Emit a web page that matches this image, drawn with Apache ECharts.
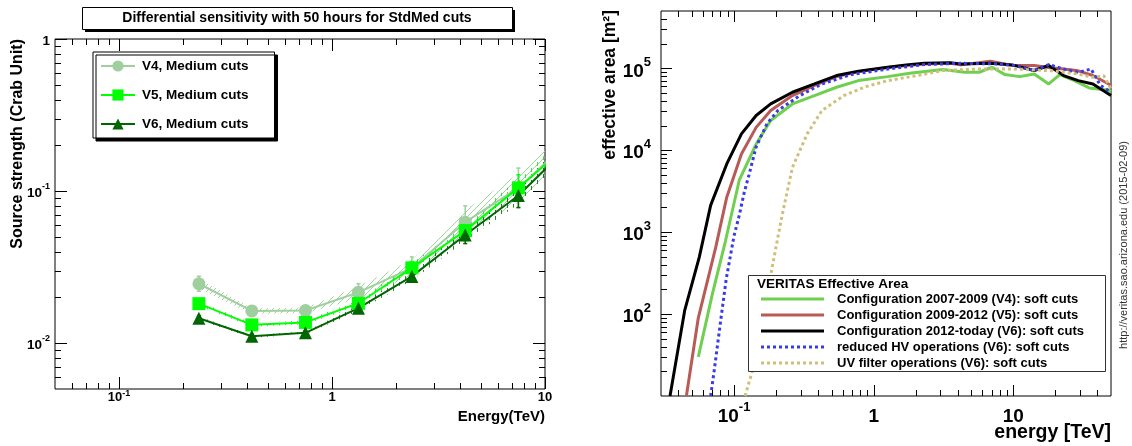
<!DOCTYPE html>
<html><head><meta charset="utf-8">
<script src="https://cdn.jsdelivr.net/npm/echarts@6/dist/echarts.min.js"></script>
<style>html,body{margin:0;padding:0;background:#fff}#c{width:1132px;height:446px}</style>
</head><body><div id="c"></div>
<script>
// ---------------- Left panel: differential sensitivity ----------------
const sensEnergy = [0.237, 0.42, 0.75, 1.33, 2.37, 4.22, 7.5, 13.3];
const sensV4 = [0.0246, 0.0163, 0.0164, 0.0216, 0.0313, 0.0625, 0.105, 0.22];
const sensV5 = [0.0182, 0.0132, 0.0137, 0.0183, 0.0313, 0.055, 0.105, 0.21];
const sensV6 = [0.0146, 0.0111, 0.0117, 0.0170, 0.0275, 0.0515, 0.0936, 0.205];
const sensErrV4 = [0.12, 0.06, 0.06, 0.14, 0.18, 0.28, 0.35, 0.4];
const sensErrV5 = [0.05, 0.04, 0.04, 0.07, 0.10, 0.16, 0.22, 0.25];
const sensErrV6 = [0.04, 0.03, 0.03, 0.06, 0.09, 0.14, 0.20, 0.22];
const sensNames = ['V4, Medium cuts', 'V5, Medium cuts', 'V6, Medium cuts'];

const sensXLabelValues = [0.1, 1, 10];
const sensXLabelTexts = ['{b|10}{s|-1}', '{b|1}', '{b|10}'];
const sensYLabelValues = [0.01, 0.1, 1];
const sensYLabelTexts = ['{b|10}{s|-2}', '{b|10}{s|-1}', '{b|1}'];
const sensXMajor = [0.1, 1, 10];
const sensXMinor = [0.06, 0.07, 0.08, 0.09, 0.2, 0.3, 0.4, 0.5, 0.6, 0.7, 0.8, 0.9, 2, 3, 4, 5, 6, 7, 8, 9];
const sensYMajor = [0.01, 0.1, 1];
const sensYMinor = [0.006, 0.007, 0.008, 0.009, 0.02, 0.03, 0.04, 0.05, 0.06, 0.07, 0.08, 0.09, 0.2, 0.3, 0.4, 0.5, 0.6, 0.7, 0.8, 0.9];

// ---------------- Right panel: effective area [E (TeV), A (m^2)] ----------------
const effTitle = 'VERITAS Effective Area';
const effNames = [
  'Configuration 2007-2009 (V4): soft cuts',
  'Configuration 2009-2012 (V5): soft cuts',
  'Configuration 2012-today (V6): soft cuts',
  'reduced HV operations (V6): soft cuts',
  'UV filter operations (V6): soft cuts'
];
const effV4 = [[0.0555,30],[0.07,176],[0.087,790],[0.109,4300],[0.144,11900],[0.183,23000],[0.262,36700],[0.377,46400],[0.542,58700],[0.778,70700],[1.26,79100],[1.81,86900],[3.12,96300],[4.48,89400],[5.7,89400],[7.05,103000],[8.7,83700],[11.1,79100],[14.1,85300],[17.9,64400],[21.5,83700],[27.4,70700],[34.9,57500],[47.2,54400],[50,52000]];
const effV5 = [[0.0456,10],[0.0555,90],[0.074,655],[0.0887,2670],[0.113,9000],[0.144,19000],[0.183,30500],[0.262,46400],[0.377,62000],[0.542,79000],[0.778,91000],[1.26,102000],[1.71,108000],[2.31,113000],[3.52,115000],[4.22,110000],[6.84,122000],[9.8,108000],[14.1,108000],[17.9,102000],[22.9,98000],[29.1,93000],[37.1,81500],[50,62000]];
const effV6 = [[0.0348,10],[0.0443,110],[0.0564,495],[0.068,2120],[0.0887,6800],[0.113,15800],[0.144,26500],[0.183,36700],[0.262,51000],[0.377,64400],[0.542,81500],[0.778,92000],[1.26,103000],[1.71,110000],[2.31,115000],[3.52,117000],[4.22,113000],[6.84,115000],[9.8,110000],[14.1,94000],[17.9,108000],[22.9,81500],[29.1,70700],[37.1,64400],[50,46400]];
const effHV = [[0.068,10],[0.072,20],[0.080,80],[0.088,270],[0.100,900],[0.109,1600],[0.118,3000],[0.128,5000],[0.144,11000],[0.172,21000],[0.206,30500],[0.296,46400],[0.426,64400],[0.69,83700],[1.26,98000],[2.31,111000],[4.22,115000],[7.7,113000],[10.4,108000],[14.1,94000],[17.9,111000],[22.9,98000],[29.1,89000],[36,98000],[41.9,62000],[50,51000]];
const effUV = [[0.12,10],[0.135,20],[0.152,80],[0.183,300],[0.22,1550],[0.262,6200],[0.334,15800],[0.426,30500],[0.611,46400],[0.88,59700],[1.26,70700],[2.05,81500],[3.12,93700],[5.7,98000],[10.4,98000],[19.1,93000],[29.1,85000],[37.1,77600],[44.4,81300],[50,56000]];

const effXLabelValues = [0.1, 1, 10];
const effXLabelTexts = ['{b|10}{s|-1}', '{b|1}', '{b|10}'];
const effYLabelValues = [100, 1000, 10000, 100000];
const effYLabelTexts = ['{b|10}{s|2}', '{b|10}{s|3}', '{b|10}{s|4}', '{b|10}{s|5}'];
const effXMajor = [0.1, 1, 10];
const effXMinor = [0.04, 0.05, 0.06, 0.07, 0.08, 0.09, 0.2, 0.3, 0.4, 0.5, 0.6, 0.7, 0.8, 0.9, 2, 3, 4, 5, 6, 7, 8, 9, 20, 30, 40];
const effYMajor = [100, 1000, 10000, 100000];
const effYMinor = [20, 30, 40, 50, 60, 70, 80, 90, 200, 300, 400, 500, 600, 700, 800, 900, 2000, 3000, 4000, 5000, 6000, 7000, 8000, 9000, 20000, 30000, 40000, 50000, 60000, 70000, 80000, 90000, 200000, 300000, 400000];

// ---------------- helpers ----------------
const FONT = '"Liberation Sans", Arial, sans-serif';
function labelFormatter(vals, texts) {
  return function (v) {
    const i = vals.findIndex(t => Math.abs(t - v) / t < 1e-6);
    return i < 0 ? '' : texts[i];
  };
}
function richLabels(size, supSize, lh) {
  return {
    b: { fontFamily: FONT, fontWeight: 'bold', fontSize: size, color: '#000', lineHeight: lh, verticalAlign: 'bottom' },
    s: { fontFamily: FONT, fontWeight: 'bold', fontSize: supSize, color: '#000', lineHeight: supSize, verticalAlign: 'top' }
  };
}
function hatch(color, kind) {
  const c = document.createElement('canvas');
  c.width = 6; c.height = 6;
  const g = c.getContext('2d');
  g.strokeStyle = color; g.lineWidth = 1;
  g.beginPath();
  if (kind === 'diag') {
    g.moveTo(0, 6); g.lineTo(6, 0);
    g.moveTo(-3, 3); g.lineTo(3, -3);
    g.moveTo(3, 9); g.lineTo(9, 3);
  } else {
    g.moveTo(3.5, 0); g.lineTo(3.5, 4);
  }
  g.stroke();
  return { image: c, repeat: 'repeat' };
}
function tickSeries(xi, yi, dim, values, majors, sides, Lmaj, Lmin, anchor) {
  return {
    type: 'custom', xAxisIndex: xi, yAxisIndex: yi, silent: true, z: 6, clip: false,
    data: values.map(v => dim === 'x' ? [v, anchor] : [anchor, v]),
    renderItem: function (params, api) {
      const cs = params.coordSys;
      const v = api.value(dim === 'x' ? 0 : 1);
      const p = api.coord([api.value(0), api.value(1)]);
      const L = majors.indexOf(v) >= 0 ? Lmaj : Lmin;
      const st = { stroke: '#000', lineWidth: 1 };
      const ch = [];
      if (dim === 'x') {
        const x = Math.round(p[0]) + 0.5;
        const b = cs.y + cs.height;
        if (sides.indexOf('bottom') >= 0) ch.push({ type: 'line', shape: { x1: x, y1: b, x2: x, y2: b - L }, style: st });
        if (sides.indexOf('top') >= 0) ch.push({ type: 'line', shape: { x1: x, y1: cs.y, x2: x, y2: cs.y + L }, style: st });
      } else {
        const y = Math.round(p[1]) + 0.5;
        const r = cs.x + cs.width;
        if (sides.indexOf('left') >= 0) ch.push({ type: 'line', shape: { x1: cs.x, y1: y, x2: cs.x + L, y2: y }, style: st });
        if (sides.indexOf('right') >= 0) ch.push({ type: 'line', shape: { x1: r, y1: y, x2: r - L, y2: y }, style: st });
      }
      return { type: 'group', children: ch };
    }
  };
}
function bandSeries(xs, ys, errs, fill) {
  return {
    type: 'custom', xAxisIndex: 0, yAxisIndex: 0, silent: true, z: 1, clip: true,
    data: [[xs[0], ys[0]]],
    renderItem: function (params, api) {
      const up = xs.map((x, i) => api.coord([x, ys[i] * (1 + 0.7 * errs[i])]));
      const lo = xs.map((x, i) => api.coord([x, ys[i] / (1 + 0.7 * errs[i])])).reverse();
      return { type: 'polygon', shape: { points: up.concat(lo) }, style: { fill: fill, stroke: null } };
    }
  };
}
function errSeries(xs, ys, errs, color) {
  return {
    type: 'custom', xAxisIndex: 0, yAxisIndex: 0, silent: true, z: 2, clip: true,
    data: xs.map((x, i) => [x, ys[i] / (1 + errs[i]), ys[i] * (1 + errs[i])]),
    encode: { x: 0, y: [1, 2] },
    renderItem: function (params, api) {
      const lo = api.coord([api.value(0), api.value(1)]);
      const hi = api.coord([api.value(0), api.value(2)]);
      const st = { stroke: color, lineWidth: 1.5 };
      return { type: 'group', children: [
        { type: 'line', shape: { x1: lo[0], y1: lo[1], x2: hi[0], y2: hi[1] }, style: st },
        { type: 'line', shape: { x1: hi[0] - 2, y1: hi[1], x2: hi[0] + 2, y2: hi[1] }, style: st },
        { type: 'line', shape: { x1: lo[0] - 2, y1: lo[1], x2: lo[0] + 2, y2: lo[1] }, style: st }
      ] };
    }
  };
}
const pair = (xs, ys) => xs.map((x, i) => [x, ys[i]]);

const cV4 = '#9fcf9f', cV5 = '#00ff00', cV6 = '#006600';
const effColors = ['#6fcf4f', '#b85a56', '#000000', '#3a3ae6', '#cfbf7a'];
const effDotted = [false, false, false, true, true];

// right-hand legend drawn as graphic elements (lines + text)
const effLegend = [
  { type: 'rect', shape: { x: 748.5, y: 275.5, width: 357, height: 96 }, style: { fill: '#fff', stroke: '#333', lineWidth: 1 }, z: 20 },
  { type: 'text', x: 757, y: 284, z: 21, style: { text: effTitle, font: 'bold 13.5px ' + FONT, fill: '#000', align: 'left', verticalAlign: 'middle' } }
];
effNames.forEach(function (n, i) {
  const y = 299 + 16 * i;
  effLegend.push({ type: 'line', z: 21, shape: { x1: 761, y1: y, x2: 824, y2: y },
    style: { stroke: effColors[i], lineWidth: 3, lineDash: effDotted[i] ? [3, 3] : null } });
  effLegend.push({ type: 'text', x: 837, y: y, z: 21,
    style: { text: n, font: 'bold 13px ' + FONT, fill: '#000', align: 'left', verticalAlign: 'middle' } });
});

const chart = echarts.init(document.getElementById('c'), null, { renderer: 'canvas' });
const option = {
  animation: false,
  backgroundColor: '#fff',
  grid: [
    { left: 55, top: 39, width: 490, height: 350, show: true, borderColor: '#000', borderWidth: 1, backgroundColor: 'transparent' },
    { left: 661, top: 11, width: 450, height: 385, show: true, borderColor: '#000', borderWidth: 1, backgroundColor: 'transparent' }
  ],
  xAxis: [
    { type: 'log', logBase: 10, gridIndex: 0, min: 0.05, max: 10,
      axisLine: { show: false }, axisTick: { show: false }, splitLine: { show: false },
      axisLabel: { margin: 0, showMaxLabel: true, showMinLabel: true, formatter: labelFormatter(sensXLabelValues, sensXLabelTexts), rich: richLabels(13, 9, 15) } },
    { type: 'log', logBase: 10, gridIndex: 1, min: 0.03, max: 50,
      axisLine: { show: false }, axisTick: { show: false }, splitLine: { show: false },
      axisLabel: { margin: 5, showMaxLabel: true, showMinLabel: true, formatter: labelFormatter(effXLabelValues, effXLabelTexts), rich: richLabels(19, 13, 25) } }
  ],
  yAxis: [
    { type: 'log', logBase: 10, gridIndex: 0, min: 0.005, max: 1,
      axisLine: { show: false }, axisTick: { show: false }, splitLine: { show: false },
      axisLabel: { margin: 5, showMaxLabel: true, showMinLabel: true, formatter: labelFormatter(sensYLabelValues, sensYLabelTexts), rich: richLabels(13.5, 9, 19) } },
    { type: 'log', logBase: 10, gridIndex: 1, min: 10, max: 500000,
      axisLine: { show: false }, axisTick: { show: false }, splitLine: { show: false },
      axisLabel: { margin: 10, showMaxLabel: true, showMinLabel: true, formatter: labelFormatter(effYLabelValues, effYLabelTexts), rich: richLabels(19, 13, 25) } }
  ],
  legend: [
    { orient: 'vertical', left: 93, top: 52, data: sensNames,
      itemWidth: 34, itemHeight: 14, itemGap: 15, padding: [7, 26, 7, 7],
      backgroundColor: '#fff', borderColor: '#000', borderWidth: 1,
      shadowColor: '#000', shadowOffsetX: 3, shadowOffsetY: 3, shadowBlur: 0,
      textStyle: { fontFamily: FONT, fontWeight: 'bold', fontSize: 13.5, color: '#000', padding: [0, 0, 0, 2] } }
  ],
  graphic: [
    { type: 'rect', shape: { x: 85, y: 10, width: 430, height: 22 }, style: { fill: '#000' }, z: 10 },
    { type: 'rect', shape: { x: 82.5, y: 7.5, width: 430, height: 22 }, style: { fill: '#fff', stroke: '#000', lineWidth: 1 }, z: 11 },
    { type: 'text', x: 297, y: 18.5, z: 12, style: { text: 'Differential sensitivity with 50 hours for StdMed cuts', font: 'bold 14px ' + FONT, fill: '#000', align: 'center', verticalAlign: 'middle' } },
    { type: 'text', x: 18, y: 39, rotation: Math.PI / 2, z: 12, style: { text: 'Source strength (Crab Unit)', font: 'bold 16px ' + FONT, fill: '#000', align: 'right', verticalAlign: 'middle' } },
    { type: 'text', x: 545, y: 417, z: 12, style: { text: 'Energy(TeV)', font: 'bold 15px ' + FONT, fill: '#000', align: 'right', verticalAlign: 'middle' } },
    { type: 'text', x: 610, y: 10, rotation: Math.PI / 2, z: 12, style: { text: 'effective area [m²]', font: 'bold 17.5px ' + FONT, fill: '#000', align: 'right', verticalAlign: 'middle' } },
    { type: 'text', x: 1111, y: 433, z: 12, style: { text: 'energy [TeV]', font: 'bold 19.5px ' + FONT, fill: '#000', align: 'right', verticalAlign: 'middle' } },
    { type: 'text', x: 1124, y: 245, rotation: Math.PI / 2, z: 12, style: { text: 'http://veritas.sao.arizona.edu (2015-02-09)', font: '11px ' + FONT, fill: '#333', align: 'center', verticalAlign: 'middle' } }
  ].concat(effLegend),
  series: [
    bandSeries(sensEnergy, sensV4, sensErrV4, hatch('rgba(150,205,150,0.9)', 'diag')),
    bandSeries(sensEnergy, sensV5, sensErrV5, hatch('rgba(0,210,0,0.7)', 'vert')),
    bandSeries(sensEnergy, sensV6, sensErrV6, hatch('rgba(0,100,0,0.8)', 'vert')),
    errSeries(sensEnergy, sensV4, sensErrV4, cV4),
    errSeries(sensEnergy, sensV5, sensErrV5, cV5),
    errSeries(sensEnergy, sensV6, sensErrV6, cV6),
    { name: sensNames[0], type: 'line', xAxisIndex: 0, yAxisIndex: 0, data: pair(sensEnergy, sensV4), z: 3,
      symbol: 'circle', symbolSize: 13, lineStyle: { color: cV4, width: 2 }, itemStyle: { color: cV4 } },
    { name: sensNames[1], type: 'line', xAxisIndex: 0, yAxisIndex: 0, data: pair(sensEnergy, sensV5), z: 3,
      symbol: 'rect', symbolSize: 13, lineStyle: { color: cV5, width: 2 }, itemStyle: { color: cV5 } },
    { name: sensNames[2], type: 'line', xAxisIndex: 0, yAxisIndex: 0, data: pair(sensEnergy, sensV6), z: 3,
      symbol: 'triangle', symbolSize: 13, lineStyle: { color: cV6, width: 2 }, itemStyle: { color: cV6 } },
    { name: effNames[0], type: 'line', xAxisIndex: 1, yAxisIndex: 1, data: effV4, symbol: 'none', z: 3,
      lineStyle: { color: effColors[0], width: 3 }, itemStyle: { color: effColors[0] } },
    { name: effNames[1], type: 'line', xAxisIndex: 1, yAxisIndex: 1, data: effV5, symbol: 'none', z: 3,
      lineStyle: { color: effColors[1], width: 3 }, itemStyle: { color: effColors[1] } },
    { name: effNames[2], type: 'line', xAxisIndex: 1, yAxisIndex: 1, data: effV6, symbol: 'none', z: 3,
      lineStyle: { color: effColors[2], width: 3 }, itemStyle: { color: effColors[2] } },
    { name: effNames[3], type: 'line', xAxisIndex: 1, yAxisIndex: 1, data: effHV, symbol: 'none', z: 3,
      lineStyle: { color: effColors[3], width: 3, type: [3, 3] }, itemStyle: { color: effColors[3] } },
    { name: effNames[4], type: 'line', xAxisIndex: 1, yAxisIndex: 1, data: effUV, symbol: 'none', z: 3,
      lineStyle: { color: effColors[4], width: 3, type: [3, 3] }, itemStyle: { color: effColors[4] } },
    tickSeries(0, 0, 'x', sensXMajor.concat(sensXMinor), sensXMajor, ['bottom', 'top'], 12, 6, 0.005),
    tickSeries(0, 0, 'y', sensYMajor.concat(sensYMinor), sensYMajor, ['left', 'right'], 12, 6, 0.05),
    tickSeries(1, 1, 'x', effXMajor.concat(effXMinor), effXMajor, ['bottom', 'top'], 11, 6, 10),
    tickSeries(1, 1, 'y', effYMajor.concat(effYMinor), effYMajor, ['left'], 11, 6, 0.03)
  ]
};
chart.setOption(option);
</script>
</body></html>
